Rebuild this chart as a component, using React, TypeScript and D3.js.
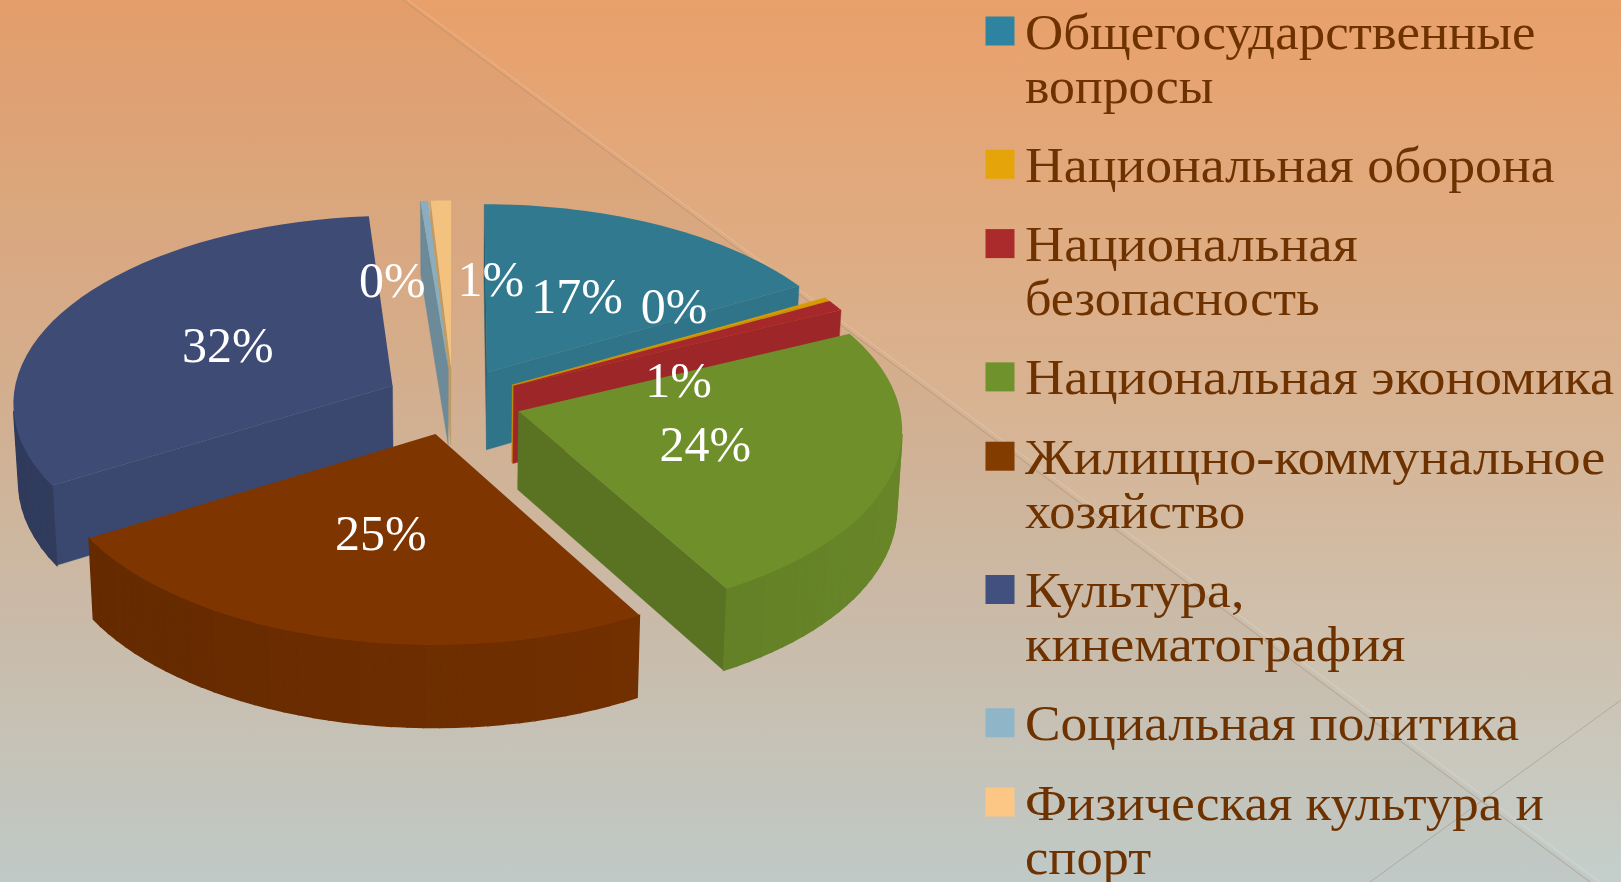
import * as d3 from 'd3'

// values (percent), clockwise from 12 o'clock
const categories = [
  ['Общегосударственные', 'вопросы'],
  ['Национальная оборона'],
  ['Национальная', 'безопасность'],
  ['Национальная экономика'],
  ['Жилищно-коммунальное', 'хозяйство'],
  ['Культура,', 'кинематография'],
  ['Социальная политика'],
  ['Физическая культура и', 'спорт'],
]
const values = [16.8, 0.25, 0.95, 23.8, 24.55, 32.35, 0.35, 0.95]
const legendColors = ['#2e83a0', '#e5a50a', '#ab2a2c', '#70922d', '#833c00', '#41507f', '#8fb5c8', '#fcc784']
const topColors = ['#31798f', '#d89a00', '#a6282a', '#6f8f2b', '#7f3500', '#3d4b75', '#8aaec0', '#f3c27e']
// far slices get painted first
const paintOrder = [7, 6, 0, 1, 2, 5, 3, 4]
// label shift from the point at 60% of the radius on the mid angle
const labelShift = [[-17, 15], [-30, -26], [-31, 44], [-36, -2], [8, -18], [31, 9], [-41, 16], [46, 15]]
// Liberation Serif is narrower than the original face, per line stretch
const legendStretch = [[1.058, 1.035], [1.075], [1.088, 1.042], [1.088], [1.083, 1.05], [1.075, 1.093], [1.066], [1.06, 1.05]]

const W = 1621
const H = 882
const cx = 453
const cy = 401
const radiusX = 380
const radiusY = 187
const persp = 0.085
const explode = 0.18
const vanishX = 445
const bottomScale = 0.988

type Pt = [number, number]

const project = (mid: number, r: number, a: number, down = false): Pt => {
  const X = explode * Math.sin(mid) + r * Math.sin(a)
  const Y = explode * Math.cos(mid) + r * Math.cos(a)
  const d = 1 + persp * Y
  const x = cx + (radiusX * X) / d
  const y = cy - (radiusY * Y) / d
  // the near side of the pie is a little thicker
  return down ? [vanishX + (x - vanishX) * bottomScale, y + 78 - 4 * Y] : [x, y]
}

const facing = (pts: Pt[]) => d3.polygonArea(pts) > 0
const poly = d3.line<Pt>().x(d => d[0]).y(d => d[1])
const path = (pts: Pt[]) => poly(pts) + 'Z'
const shade = (c: string, k: number) => d3.color(c)!.darker(k).formatHex()

const pie = d3.pie<number>().sort(null).value(d => d)
const slices = pie(values)
const pct = d3.format('.0%')

const Slice = ({ i }: { i: number }) => {
  const s = slices[i]
  const mid = (s.startAngle + s.endAngle) / 2
  const top = topColors[i]
  const steps = d3.range(0, 41).map(t => s.startAngle + ((s.endAngle - s.startAngle) * t) / 40)
  const arcTop = steps.map(a => project(mid, 1, a))
  const apex = project(mid, 0, 0)
  const apexB = project(mid, 0, 0, true)

  const faces: { d: string; fill: string; w: number }[] = []
  // cut faces, the ones turned away from us are dropped
  const startQuad: Pt[] = [apex, arcTop[0], project(mid, 1, s.startAngle, true), apexB]
  const endQuad: Pt[] = [arcTop[40], apex, apexB, project(mid, 1, s.endAngle, true)]
  if (facing(startQuad)) {
    faces.push({ d: path(startQuad), fill: shade(top, 0.3 + 0.35 * Math.cos(s.startAngle)), w: 0.4 })
  }
  if (facing(endQuad)) {
    faces.push({ d: path(endQuad), fill: shade(top, 0.3 - 0.35 * Math.cos(s.endAngle)), w: 0.4 })
  }
  // rim
  steps.slice(1).forEach((a, n) => {
    const b = steps[n]
    const q: Pt[] = [project(mid, 1, b), project(mid, 1, a), project(mid, 1, a, true), project(mid, 1, b, true)]
    if (facing(q)) {
      faces.push({ d: path(q), fill: shade(top, 0.42 - 0.25 * Math.sin(a)), w: 1.4 })
    }
  })
  return (
    <g>
      {faces.map((f, n) => <path key={n} d={f.d} fill={f.fill} stroke={f.fill} strokeWidth={f.w} />)}
      <path d={path([apex, ...arcTop])} fill={top} />
    </g>
  )
}

const Legend = () => {
  let y = 48.5
  const rows = categories.map((lines, i) => {
    const row = (
      <g key={i}>
        <rect x={985.5} y={y - 32} width={29} height={29} fill={legendColors[i]} />
        {lines.map((t, n) => (
          <text key={n} transform={`translate(1025,${y + n * 54}) scale(${legendStretch[i][n]},1)`}>{t}</text>
        ))}
      </g>
    )
    y += (lines.length - 1) * 54 + 79.3
    return row
  })
  return <g fontFamily="'Liberation Serif', serif" fontSize={50} fill="#6e3200">{rows}</g>
}

export default function App() {
  return (
    <svg width={W} height={H} style={{ position: 'absolute', left: 0, top: 0, display: 'block' }}>
      <defs>
        <linearGradient id="bg" x1="0" y1="0" x2="0" y2="1">
          <stop offset="0" stopColor="#e9a06a" />
          <stop offset="0.5" stopColor="#d6b596" />
          <stop offset="1" stopColor="#c4cfcc" />
        </linearGradient>
      </defs>
      <rect width={W} height={H} fill="url(#bg)" />
      <polygon points="0,0 403,0 1621,901 0,882" fill="#8a7a70" opacity={0.06} />
      <line x1={403} y1={0} x2={1590} y2={882} stroke="#a98f78" strokeWidth={1} opacity={0.6} />
      <line x1={408} y1={0} x2={1600} y2={882} stroke="#ffffff" strokeWidth={1} opacity={0.2} />
      <line x1={1621} y1={700} x2={1370} y2={882} stroke="#a0a096" strokeWidth={1} opacity={0.7} />

      {paintOrder.map(i => <Slice key={i} i={i} />)}

      <g fontFamily="'Liberation Serif', serif" fontSize={50} fill="#ffffff" textAnchor="middle">
        {slices.map((s, i) => {
          const mid = (s.startAngle + s.endAngle) / 2
          const [x, y] = project(mid, 0.6, mid)
          return (
            <text key={i} x={x + labelShift[i][0]} y={y + labelShift[i][1]} dy="0.33em">
              {pct(values[i] / 100)}
            </text>
          )
        })}
      </g>

      <Legend />
    </svg>
  )
}
